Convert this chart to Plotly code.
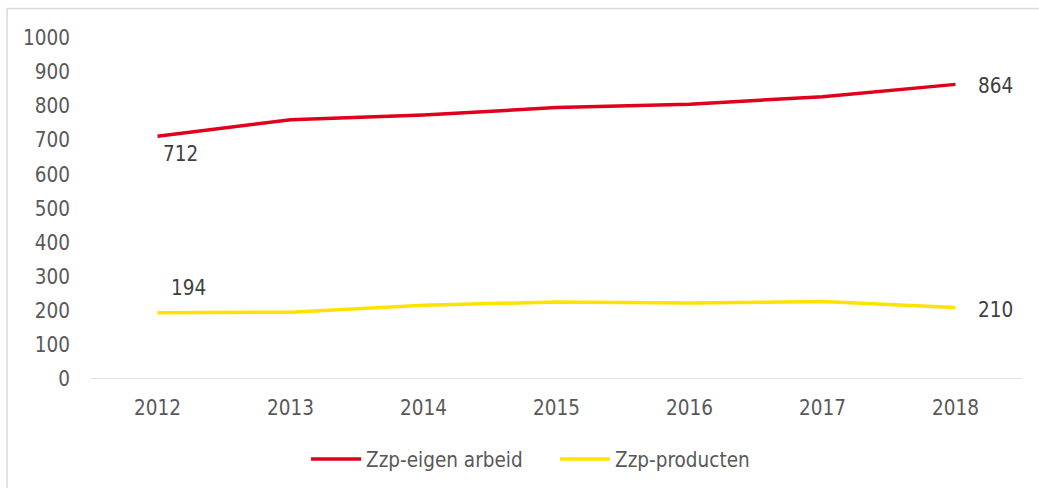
import plotly.graph_objects as go

years = ["2012", "2013", "2014", "2015", "2016", "2017", "2018"]
eigen_arbeid = [712, 760, 774, 796, 806, 828, 864]
producten = [194, 196, 216, 226, 223, 227, 210]
series_names = ["Zzp-eigen arbeid", "Zzp-producten"]
y_ticks = [0, 100, 200, 300, 400, 500, 600, 700, 800, 900, 1000]

FONT = "DejaVu Sans Condensed, DejaVu Sans, sans-serif"
FS = 20.5

fig = go.Figure()
fig.add_trace(go.Scatter(
    x=years, y=eigen_arbeid, name=series_names[0], mode="lines",
    line=dict(color="#E0001B", width=3.5),
))
fig.add_trace(go.Scatter(
    x=years, y=producten, name=series_names[1], mode="lines",
    line=dict(color="#FFE200", width=3.5),
))

# data labels for first and last points (x given as category index)
positions = list(range(len(years)))
label_specs = [
    (eigen_arbeid, 0, 23, -18),
    (eigen_arbeid, -1, 40, -2),
    (producten, 0, 31, 25),
    (producten, -1, 40, -3),
]
annotations = []
for vals, idx, dx, dy in label_specs:
    annotations.append(dict(
        x=positions[idx], y=vals[idx], xref="x", yref="y", text=str(vals[idx]),
        showarrow=False, xshift=dx, yshift=dy,
        font=dict(family=FONT, size=FS, color="#404040"),
    ))

fig.update_layout(
    width=1039, height=488,
    margin=dict(l=91, r=17, t=38, b=109, autoexpand=False),
    paper_bgcolor="white", plot_bgcolor="white",
    font=dict(family=FONT, size=FS, color="#595959"),
    showlegend=True,
    legend=dict(orientation="h", x=0.231, y=-0.235, xanchor="left", yanchor="middle",
                font=dict(family=FONT, size=FS, color="#595959"),
                entrywidth=184, entrywidthmode="pixels", itemwidth=50),
    xaxis=dict(type="category", range=[-0.5, 6.5], showgrid=False, zeroline=False,
               showline=False, ticks="outside", ticklen=10, tickcolor="white",
               tickfont=dict(family=FONT, size=FS, color="#595959")),
    yaxis=dict(range=[0, 1000], tickvals=y_ticks, showgrid=False, zeroline=False,
               showline=False, ticks="outside", ticklen=16, tickcolor="white",
               tickfont=dict(family=FONT, size=FS, color="#595959")),
    annotations=annotations,
    shapes=[
        dict(type="line", xref="paper", yref="y", x0=0, x1=1, y0=0, y1=0,
             line=dict(color="#D9D9D9", width=1.5), layer="below"),
        dict(type="line", xref="paper", yref="paper", x0=-0.0902, x1=1.02, y0=1.0865, y1=1.0865,
             line=dict(color="#D9D9D9", width=1.5)),
        dict(type="line", xref="paper", yref="paper", x0=-0.0902, x1=-0.0902, y0=1.0865, y1=-0.33,
             line=dict(color="#D9D9D9", width=1.5)),
    ],
)

fig.write_html("out.html", config={"displayModeBar": False},
               post_script="document.body.style.margin='0';document.body.style.overflow='hidden';")
